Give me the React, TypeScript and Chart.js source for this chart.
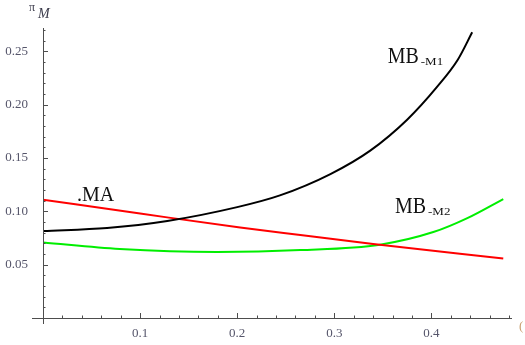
import React, { useEffect, useRef } from "react";
import { Chart, registerables } from "chart.js";

Chart.register(...registerables);

// Data
const blackX = [0, 0.066, 0.128, 0.2, 0.244, 0.296, 0.337, 0.375, 0.406, 0.427, 0.442];
const blackY = [0.0816, 0.0844, 0.091, 0.104, 0.115, 0.135, 0.157, 0.186, 0.217, 0.242, 0.268];

const redX = [0, 0.1, 0.203, 0.265, 0.34, 0.474];
const redY = [0.111, 0.098, 0.0848, 0.0778, 0.0695, 0.0557];

const greenX = [0, 0.079, 0.179, 0.265, 0.347, 0.402, 0.437, 0.474];
const greenY = [0.0708, 0.0647, 0.0619, 0.0637, 0.0688, 0.0806, 0.0937, 0.1116];

const xTickLabels = ["0.1", "0.2", "0.3", "0.4"];
const yTickLabels = ["0.05", "0.10", "0.15", "0.20", "0.25"];

const xMin = 0, xMax = 0.483, yMin = 0, yMax = 0.272;

// label anchors in data coordinates
const labelMA = { x: 0.035, y: 0.11, text: ".MA" };
const labelM1 = { x: 0.355, y: 0.239, main: "MB", sub: "-M1" };
const labelM2 = { x: 0.3625, y: 0.0985, main: "MB", sub: "-M2" };

const pts = (xs: number[], ys: number[]) => xs.map((x, i) => ({ x, y: ys[i] }));

const axesPlugin = {
  id: "mmaAxes",
  afterDatasetsDraw(chart: any) {
    const ctx = chart.ctx;
    const xs = chart.scales.x;
    const ys = chart.scales.y;
    const ox = xs.getPixelForValue(0);
    const oy = ys.getPixelForValue(0);
    ctx.save();
    ctx.strokeStyle = "#4d4d4d";
    ctx.lineWidth = 1;
    ctx.beginPath();
    ctx.moveTo(ox - 11, oy + 0.5);
    ctx.lineTo(xs.getPixelForValue(xMax), oy + 0.5);
    ctx.moveTo(ox + 0.5, ys.getPixelForValue(yMax));
    ctx.lineTo(ox + 0.5, oy + 6);
    ctx.stroke();
    ctx.beginPath();
    for (let i = 1; i <= 27; i++) {
      const v = i / 100;
      const py = Math.round(ys.getPixelForValue(v)) + 0.5;
      const len = i % 5 === 0 ? 5 : 2.5;
      ctx.moveTo(ox, py);
      ctx.lineTo(ox + len, py);
    }
    for (let i = 1; i <= 24; i++) {
      const v = i * 0.02;
      const px = Math.round(xs.getPixelForValue(v)) + 0.5;
      const len = i % 5 === 0 ? 5 : 2.5;
      ctx.moveTo(px, oy);
      ctx.lineTo(px, oy - len);
    }
    ctx.stroke();

    // axis label pi_M
    ctx.fillStyle = "#3a3a4a";
    ctx.font = "12px 'Liberation Serif'";
    ctx.textBaseline = "alphabetic";
    ctx.fillText("π", 29, 11);
    ctx.font = "italic 14px 'Liberation Serif'";
    ctx.fillText("M", 38, 18);
    // clipped right-hand label
    ctx.fillStyle = "#c9a070";
    ctx.font = "13px 'Liberation Serif'";
    ctx.fillText("(", 519, 330);

    // curve labels
    ctx.fillStyle = "#111";
    const drawMB = (l: any) => {
      const px = xs.getPixelForValue(l.x);
      const py = ys.getPixelForValue(l.y);
      ctx.save();
      ctx.translate(px, py);
      ctx.scale(0.95, 1.1);
      ctx.font = "21px 'Liberation Serif'";
      ctx.fillText(l.main, 0, 0);
      const w = ctx.measureText(l.main).width * 0.95;
      ctx.restore();
      ctx.save();
      ctx.translate(px + w + 2, py + 2);
      ctx.scale(1, 0.85);
      ctx.font = "13px 'Liberation Serif'";
      ctx.fillText(l.sub, 0, 0);
      ctx.restore();
    };
    drawMB(labelM1);
    drawMB(labelM2);
    ctx.font = "20px 'Liberation Serif'";
    ctx.fillText(labelMA.text, xs.getPixelForValue(labelMA.x), ys.getPixelForValue(labelMA.y));
    ctx.restore();
  },
};

export default function App() {
  const ref = useRef<HTMLCanvasElement>(null);
  useEffect(() => {
    if (!ref.current) return;
    const lineDs = (label: string, data: any, color: string) => ({
      label,
      data,
      borderColor: color,
      backgroundColor: color,
      borderWidth: 2,
      pointRadius: 0,
      fill: false,
      cubicInterpolationMode: "monotone" as const,
    });
    const chart = new Chart(ref.current, {
      type: "line",
      data: {
        datasets: [
          lineDs("MB-M1", pts(blackX, blackY), "#000000"),
          lineDs("MA", pts(redX, redY), "#ff0000"),
          lineDs("MB-M2", pts(greenX, greenY), "#00ee00"),
        ],
      },
      options: {
        animation: false,
        responsive: false,
        layout: { padding: { top: 28, right: 13, left: 0, bottom: 0 } },
        plugins: { legend: { display: false }, tooltip: { enabled: false } },
        scales: {
          x: {
            type: "linear",
            min: xMin,
            max: xMax,
            grid: { display: false },
            border: { display: false },
            afterFit: (s: any) => { s.height = 27; },
            ticks: {
              stepSize: 0.1,
              includeBounds: false,
              padding: 0,
              color: "#55556a",
              font: { family: "'Liberation Serif'", size: 13 },
              maxRotation: 0,
              callback: (v: any) => {
                const i = Math.round(Number(v) * 10);
                return i >= 1 && i <= xTickLabels.length ? xTickLabels[i - 1] : "";
              },
            },
          },
          y: {
            type: "linear",
            min: yMin,
            max: yMax,
            grid: { display: false },
            border: { display: false },
            afterFit: (s: any) => { s.width = 43; },
            ticks: {
              stepSize: 0.05,
              includeBounds: false,
              padding: 7,
              color: "#55556a",
              font: { family: "'Liberation Serif'", size: 13 },
              callback: (v: any) => {
                const i = Math.round(Number(v) * 20);
                return i >= 1 && i <= yTickLabels.length ? yTickLabels[i - 1] : "";
              },
            },
          },
        },
      },
      plugins: [axesPlugin],
    });
    return () => chart.destroy();
  }, []);
  return (
    <div style={{ position: "absolute", left: 0, top: 0, width: 525, height: 345, background: "#fff" }}>
      <canvas ref={ref} width={525} height={345} style={{ display: "block" }} />
    </div>
  );
}
